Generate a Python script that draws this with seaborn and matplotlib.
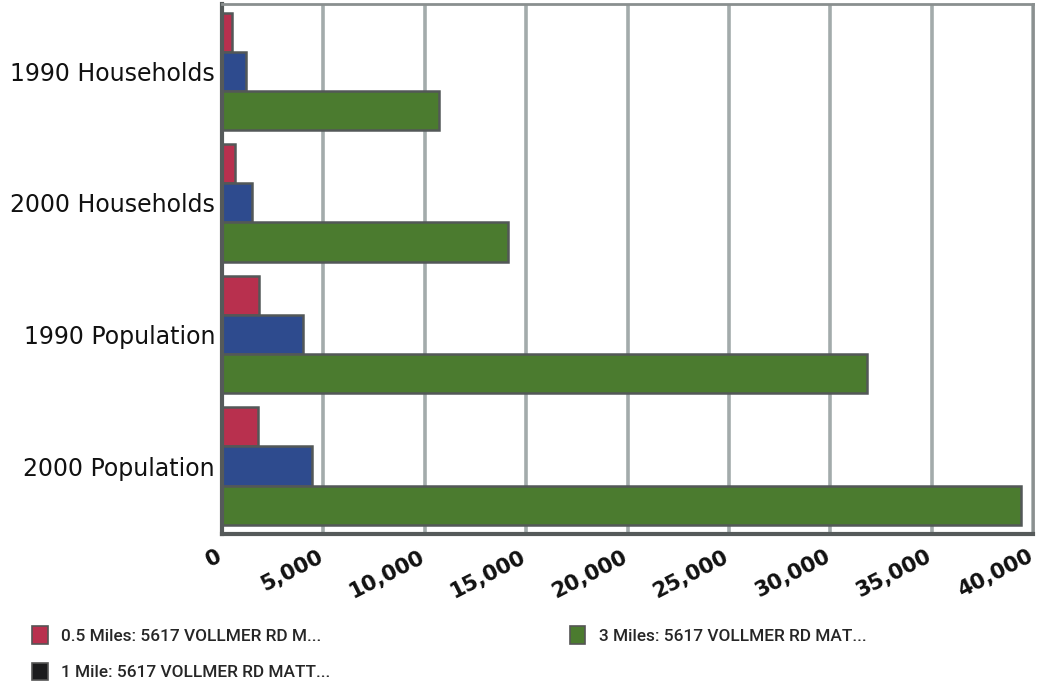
import matplotlib
matplotlib.use("Agg")
import matplotlib.pyplot as plt
from matplotlib.patches import Patch
from matplotlib.ticker import FuncFormatter
from matplotlib.transforms import ScaledTranslation
import seaborn as sns
import pandas as pd

# Demographic counts around 5617 Vollmer Rd, by ring radius
categories = ["1990 Households", "2000 Households", "1990 Population", "2000 Population"]
rings = ["0.5 Miles: 5617 VOLLMER RD M...",
         "1 Mile: 5617 VOLLMER RD MATT...",
         "3 Miles: 5617 VOLLMER RD MAT..."]
half_mile = [500, 650, 1830, 1780]
one_mile = [1200, 1500, 4000, 4440]
three_mile = [10700, 14100, 31800, 39400]
x_ticks = [0, 5000, 10000, 15000, 20000, 25000, 30000, 35000, 40000]

ring_colors = ["#b8304e", "#2e4b8e", "#4b7b2f"]
legend_colors = ["#b8304e", "#1c1c1e", "#4b7b2f"]

df = pd.DataFrame({
    "category": categories * 3,
    "ring": [rings[0]] * 4 + [rings[1]] * 4 + [rings[2]] * 4,
    "value": half_mile + one_mile + three_mile,
})

sns.set_theme(style="white")
plt.rcParams["font.family"] = ["DejaVu Sans"]

fig = plt.figure(figsize=(10.38, 6.86), dpi=100)
ax = fig.add_axes([222 / 1038, 1 - 534 / 686, (1033 - 222) / 1038, (534 - 4) / 686])

sns.barplot(data=df, y="category", x="value", hue="ring", order=categories,
            hue_order=rings, palette=ring_colors, orient="h", width=0.89,
            edgecolor="#535858", linewidth=1.8, saturation=1, legend=False, ax=ax)

ax.set_xlim(0, 40000)
ax.set_ylim(3.517, -0.513)
ax.set_xticks(x_ticks)
ax.xaxis.set_major_formatter(FuncFormatter(lambda v, p: f"{int(v):,}"))
ax.grid(axis="x", color="#a3abab", linewidth=2.6)
ax.grid(axis="y", visible=False)
ax.set_axisbelow(True)
ax.set_xlabel("")
ax.set_ylabel("")

for side, sp in ax.spines.items():
    sp.set_visible(True)
    sp.set_color("#8a8f8f" if side in ("top", "right") else "#555a5a")
    sp.set_linewidth(2.0 if side in ("top", "right") else 3.0)

ax.tick_params(axis="y", length=0, pad=5, labelsize=17, labelcolor="#111111")
ax.tick_params(axis="x", length=0, pad=9, labelsize=15.2, labelcolor="#111111")
shift_left = ScaledTranslation(-6 / 100, 0, fig.dpi_scale_trans)
for lbl in ax.get_xticklabels():
    lbl.set_rotation(27)
    lbl.set_ha("right")
    lbl.set_va("top")
    lbl.set_rotation_mode("anchor")
    lbl.set_fontweight("bold")
    lbl.set_transform(lbl.get_transform() + shift_left)

handles = [Patch(facecolor=c, edgecolor="#555555", linewidth=1.2) for c in legend_colors]
fig.legend(handles, rings, loc="upper left", bbox_to_anchor=(32 / 1038, 1 - 626 / 686),
           ncol=2, frameon=False, handlelength=0.9, handleheight=1.2,
           handletextpad=0.8, columnspacing=13.9, labelspacing=1.1,
           borderaxespad=0, borderpad=0,
           prop={"family": ["Roboto", "Liberation Sans"], "size": 12.4, "weight": "medium"})

fig.savefig("out.png", dpi=100, facecolor="white")
